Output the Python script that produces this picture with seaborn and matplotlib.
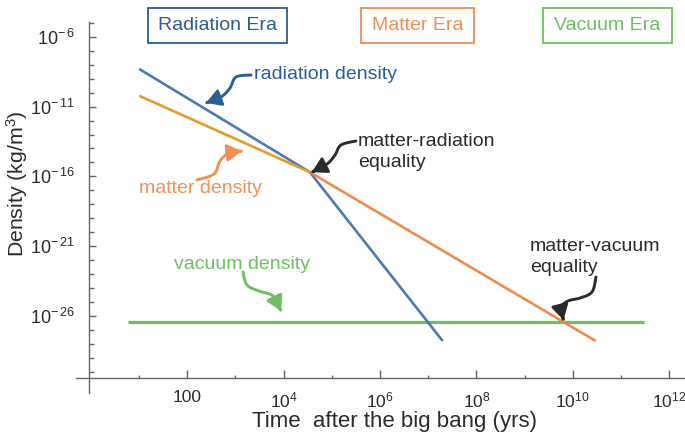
import numpy as np
import matplotlib
matplotlib.use("Agg")
import matplotlib.pyplot as plt
import matplotlib.transforms as mtransforms
from matplotlib.patches import FancyArrowPatch, Rectangle
from matplotlib.path import Path
from matplotlib.ticker import FixedLocator, FixedFormatter, NullFormatter
import seaborn as sns

# ---- data -------------------------------------------------------------
radiation_t = [1e1, 3.5e4, 2e7]
radiation_rho = [5e-9, 2e-16, 1.6e-28]

matter_t = [1e1, 3.5e4, 3e10]
matter_rho = [6e-11, 2e-16, 1.6e-28]

vacuum_t = [6e0, 3e11]
vacuum_rho = [3.7e-27, 3.7e-27]

x_major = [1e2, 1e4, 1e6, 1e8, 1e10, 1e12]
x_major_labels = ["100", r"$10^{4}$", r"$10^{6}$", r"$10^{8}$", r"$10^{10}$", r"$10^{12}$"]
x_minor = [1e1, 1e3, 1e5, 1e7, 1e9, 1e11]

y_major = [1e-6, 1e-11, 1e-16, 1e-21, 1e-26]
y_major_labels = [r"$10^{-\,6}$", r"$10^{-\,11}$", r"$10^{-\,16}$", r"$10^{-\,21}$", r"$10^{-\,26}$"]
y_minor = [10.0 ** k for k in range(-31, -4) if (k + 6) % 5 != 0]

eras = ["Radiation Era", "Matter Era", "Vacuum Era"]

# ---- style ------------------------------------------------------------
BLUE = "#4a7bb7"
BLUE_DARK = "#2c5d93"
GOLD = "#e39b2d"
ORANGE = "#f08b4b"
ORANGE_TXT = "#f28f55"
GREEN = "#72bf5d"
GREEN_TXT = "#6dbf62"
INK = "#2b2b2b"
AXIS = "#666666"

sns.set_theme(style="white")
plt.rcParams["font.family"] = ["Liberation Sans", "DejaVu Sans"]
plt.rcParams["mathtext.fontset"] = "custom"
plt.rcParams["mathtext.rm"] = "Liberation Sans"
plt.rcParams["mathtext.it"] = "Liberation Sans"
plt.rcParams["mathtext.default"] = "regular"

W, H = 685, 436
fig = plt.figure(figsize=(W / 100, H / 100), dpi=100)
ax = fig.add_axes([76 / W, 1 - 393 / H, 609 / W, (393 - 22.3) / H])
ax.set_xscale("log")
ax.set_yscale("log")
ax.set_xlim(10 ** -0.31, 10 ** 12.33)
ax.set_ylim(10 ** -31.52, 10 ** -4.96)

# ---- curves -----------------------------------------------------------
sns.lineplot(x=vacuum_t, y=vacuum_rho, ax=ax, color=GREEN, lw=2.3,
             estimator=None, sort=False, solid_capstyle="butt")
sns.lineplot(x=radiation_t, y=radiation_rho, ax=ax, color=BLUE, lw=1.9,
             estimator=None, sort=False, solid_capstyle="butt")
sns.lineplot(x=matter_t[:2], y=matter_rho[:2], ax=ax, color=GOLD, lw=1.9,
             estimator=None, sort=False, solid_capstyle="butt")
sns.lineplot(x=matter_t[1:], y=matter_rho[1:], ax=ax, color=ORANGE, lw=1.9,
             estimator=None, sort=False, solid_capstyle="butt")

# ---- axes -------------------------------------------------------------
for side in ("top", "right"):
    ax.spines[side].set_visible(False)
ax.spines["left"].set_position(("data", 10 ** -0.04))
ax.spines["bottom"].set_position(("data", 10 ** -30.44))
for side in ("left", "bottom"):
    ax.spines[side].set_color(AXIS)
    ax.spines[side].set_linewidth(1.0)

ax.xaxis.set_major_locator(FixedLocator(x_major))
ax.xaxis.set_major_formatter(FixedFormatter(x_major_labels))
ax.xaxis.set_minor_locator(FixedLocator(x_minor))
ax.xaxis.set_minor_formatter(NullFormatter())
ax.yaxis.set_major_locator(FixedLocator(y_major))
ax.yaxis.set_major_formatter(FixedFormatter(y_major_labels))
ax.yaxis.set_minor_locator(FixedLocator(y_minor))
ax.yaxis.set_minor_formatter(NullFormatter())

ax.tick_params(axis="x", which="major", direction="in", length=5.5, width=1.0,
               color=AXIS, labelsize=12.5, labelcolor=INK, pad=9, bottom=True)
ax.tick_params(axis="x", which="minor", direction="in", length=2.2, width=1.0,
               color=AXIS, bottom=True)
ax.tick_params(axis="y", which="major", direction="in", length=5.0, width=1.0,
               color=AXIS, labelsize=13, labelcolor=INK, pad=10, left=True)
ax.tick_params(axis="y", which="minor", direction="in", length=3.5, width=1.0,
               color=AXIS, left=True)
ax.grid(False)

# pixel coordinates (origin top-left) for the decorations
PX = mtransforms.Affine2D().scale(1, -1).translate(0, H)


def to_px(x, y):
    dx, dy = ax.transData.transform((x, y))
    return dx, H - dy


fig.text(394, 421, "Time  after the big bang (yrs)", transform=PX,
         fontsize=16, color=INK, ha="center", va="center")
fig.text(17, 184, "Density (kg/m$^{3}$)", transform=PX, rotation=90,
         fontsize=15.3, color=INK, ha="center", va="center")

# ---- era boxes --------------------------------------------------------
era_boxes = [(148, 287, BLUE_DARK, BLUE_DARK), (361, 474, ORANGE, ORANGE_TXT),
             (543, 672, GREEN, GREEN_TXT)]
for name, (x0, x1, edge, tc) in zip(eras, era_boxes):
    fig.patches.append(Rectangle((x0, 8), x1 - x0, 35, transform=PX, fill=False,
                                 edgecolor=edge, lw=1.3))
    fig.text((x0 + x1) / 2, 25.5, name, transform=PX, fontsize=14, color=tc,
             ha="center", va="center")

# ---- labels on curves -------------------------------------------------
fig.text(254, 74, "radiation density", transform=PX, fontsize=14, color=BLUE_DARK,
         ha="left", va="center")
fig.text(139, 188, "matter density", transform=PX, fontsize=14, color=ORANGE_TXT,
         ha="left", va="center")
fig.text(174, 264, "vacuum density", transform=PX, fontsize=14, color=GREEN_TXT,
         ha="left", va="center")
fig.text(358, 152, "matter-radiation\nequality", transform=PX, fontsize=14, color=INK,
         ha="left", va="center", linespacing=1.32)
fig.text(530, 257, "matter-vacuum\nequality", transform=PX, fontsize=14, color=INK,
         ha="left", va="center", linespacing=1.32)


def squiggle(points, color):
    """Smooth curly arrow through the given pixel points, head at the last one."""
    pts = np.asarray(points, float)
    # Catmull-Rom through the waypoints
    p = np.vstack([pts[0], pts, pts[-1]])
    out = []
    for i in range(1, len(p) - 2):
        p0, p1, p2, p3 = p[i - 1], p[i], p[i + 1], p[i + 2]
        for s in np.linspace(0, 1, 12, endpoint=False):
            out.append(0.5 * ((2 * p1) + (-p0 + p2) * s
                              + (2 * p0 - 5 * p1 + 4 * p2 - p3) * s ** 2
                              + (-p0 + 3 * p1 - 3 * p2 + p3) * s ** 3))
    out.append(pts[-1])
    verts = np.array(out)
    arr = FancyArrowPatch(path=Path(verts), transform=PX,
                          arrowstyle="-|>,head_length=5.5,head_width=3.2",
                          color=color, lw=2.1, mutation_scale=1.6)
    fig.patches.append(arr)


# equality points taken from the curves
eq_mr = to_px(radiation_t[1], radiation_rho[1])
lm = np.log10(matter_t[1:]), np.log10(matter_rho[1:])
lv = np.log10(vacuum_rho[0])
t_mv = 10 ** np.interp(lv, lm[1][::-1], lm[0][::-1])
eq_mv = to_px(t_mv, vacuum_rho[0])

squiggle([(251, 75), (236, 77), (230, 88), (221, 97), (206, 103)], BLUE_DARK)
squiggle([(197, 180), (214, 174), (220, 161), (229, 153), (242, 151)], ORANGE_TXT)
squiggle([(356, 141), (341, 145), (335, 155), (327, 164),
          (eq_mr[0] + 2, eq_mr[1])], INK)
squiggle([(243, 272), (247, 285), (259, 291), (273, 296), (281, 311)], GREEN_TXT)
squiggle([(596, 277), (592, 292), (580, 298), (568, 301), (561, 308),
          (eq_mv[0], eq_mv[1] - 2)], INK)

fig.savefig("out.png", dpi=100)
